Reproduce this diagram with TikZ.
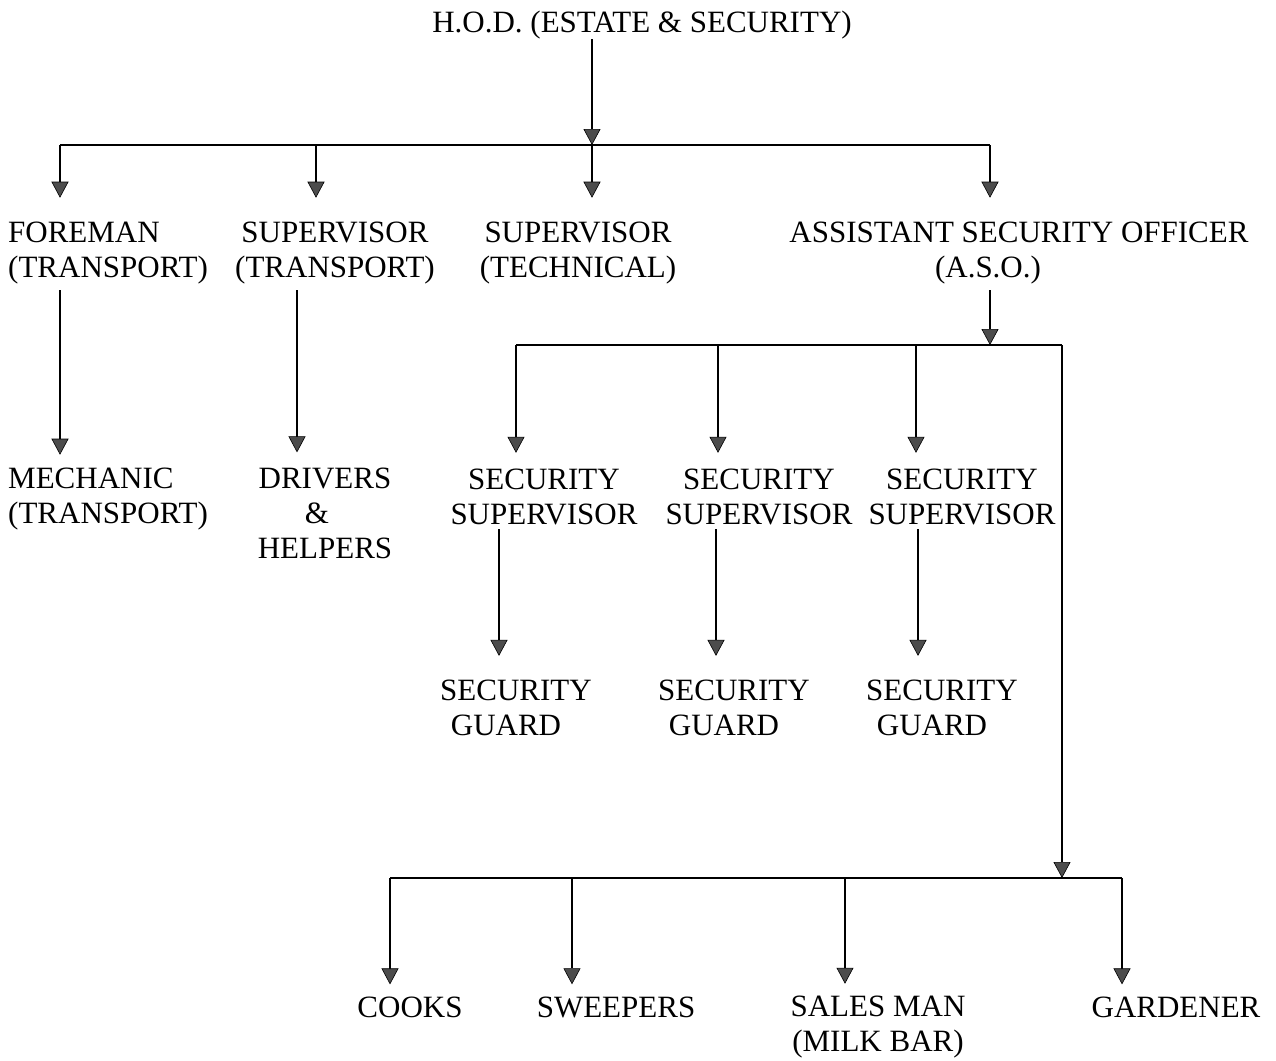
\documentclass[tikz,border=0pt]{standalone}
\usepackage{fontspec}
\setmainfont{Liberation Serif}
\usetikzlibrary{arrows.meta}
\begin{document}
\begin{tikzpicture}[x=1pt,y=-1pt,
  lbl/.style={inner sep=0pt, font=\fontsize{31}{35}\selectfont, align=center},
  lblL/.style={lbl, anchor=west, align=left},
  ln/.style={line width=1.6pt, black},
  arr/.style={ln, -{Triangle[width=17pt,length=16pt,fill=black!70,line width=0.6pt]}},
]
\fill[white] (0,0) rectangle (1276,1060);
\useasboundingbox (0,0) rectangle (1276,1060);

% nodes
\node[lbl] (hod) at (642,25) {H.O.D. (ESTATE \& SECURITY)};
\node[lblL] (fore) at (8,253) {FOREMAN\\(TRANSPORT)};
\node[lbl] (suptr) at (335,253) {SUPERVISOR\\(TRANSPORT)};
\node[lbl] (suptech) at (578,253) {SUPERVISOR\\(TECHNICAL)};
\node[lbl] (aso) at (1019,253) {ASSISTANT SECURITY OFFICER\\(A.S.O.)\hspace*{62pt}};
\node[lblL] (mech) at (8,499) {MECHANIC\\(TRANSPORT)};
\node[lbl] (drv) at (325,513) {DRIVERS\\\hspace*{-16pt}\&\\HELPERS};
\node[lbl] (ss1) at (544,497) {SECURITY\\SUPERVISOR};
\node[lbl] (ss2) at (759,497) {SECURITY\\SUPERVISOR};
\node[lbl] (ss3) at (962,497) {SECURITY\\SUPERVISOR};
\node[lbl] (sg1) at (516,708) {SECURITY\\GUARD\hspace*{20pt}};
\node[lbl] (sg2) at (734,708) {SECURITY\\GUARD\hspace*{20pt}};
\node[lbl] (sg3) at (942,708) {SECURITY\\GUARD\hspace*{20pt}};
\node[lbl] (cooks) at (410,1007) {COOKS};
\node[lbl] (sweep) at (616,1007) {SWEEPERS};
\node[lbl] (sales) at (878,1027) {SALES MAN\\(MILK BAR)};
\node[lbl] (gard) at (1176,1007) {GARDENER};

% bus 1
\coordinate (b1a) at (60,145);
\coordinate (b1b) at (316,145);
\coordinate (b1c) at (592,145);
\coordinate (b1d) at (990,145);
\draw[arr] (hod.south -| b1c) -- (b1c);
\draw[ln] (b1a) -- (b1d);
\draw[arr, shorten >=24pt] (b1a) -- (b1a |- fore.north);
\draw[arr, shorten >=24pt] (b1b) -- (b1b |- suptr.north);
\draw[arr, shorten >=24pt] (b1c) -- (b1c |- suptech.north);
\draw[arr, shorten >=24pt] (b1d) -- (b1d |- aso.north);

% second level (transport)
\coordinate (xf) at (60,0);
\coordinate (xd) at (297,0);
\draw[arr, shorten <=6pt, shorten >=13pt] (fore.south -| xf) -- (mech.north -| xf);
\draw[arr, shorten <=6pt, shorten >=15pt] (suptr.south -| xd) -- (drv.north -| xd);

% bus 2
\coordinate (b2a) at (516,345);
\coordinate (b2b) at (718,345);
\coordinate (b2c) at (916,345);
\coordinate (b2d) at (990,345);
\coordinate (b2e) at (1062,345);
\draw[arr, shorten <=6pt] (aso.south -| b2d) -- (b2d);
\draw[ln] (b2a) -- (b2e);
\draw[arr, shorten >=16pt] (b2a) -- (b2a |- ss1.north);
\draw[arr, shorten >=16pt] (b2b) -- (b2b |- ss2.north);
\draw[arr, shorten >=16pt] (b2c) -- (b2c |- ss3.north);

% supervisors to guards
\coordinate (g1) at (499,0);
\coordinate (g2) at (716,0);
\coordinate (g3) at (918,0);
\draw[arr, shorten <=4pt, shorten >=24pt] (ss1.south -| g1) -- (sg1.north -| g1);
\draw[arr, shorten <=4pt, shorten >=24pt] (ss2.south -| g2) -- (sg2.north -| g2);
\draw[arr, shorten <=4pt, shorten >=24pt] (ss3.south -| g3) -- (sg3.north -| g3);

% bus 3
\coordinate (b3j) at (1062,878);
\coordinate (b3a) at (390,878);
\coordinate (b3b) at (572,878);
\coordinate (b3c) at (845,878);
\coordinate (b3d) at (1122,878);
\draw[arr] (b2e) -- (b3j);
\draw[ln] (b3a) -- (b3d);
\draw[arr, shorten >=12pt] (b3a) -- (b3a |- cooks.north);
\draw[arr, shorten >=12pt] (b3b) -- (b3b |- sweep.north);
\draw[arr, shorten >=12pt] (b3c) -- (b3c |- sales.north);
\draw[arr, shorten >=12pt] (b3d) -- (b3d |- gard.north);
\end{tikzpicture}
\end{document}
